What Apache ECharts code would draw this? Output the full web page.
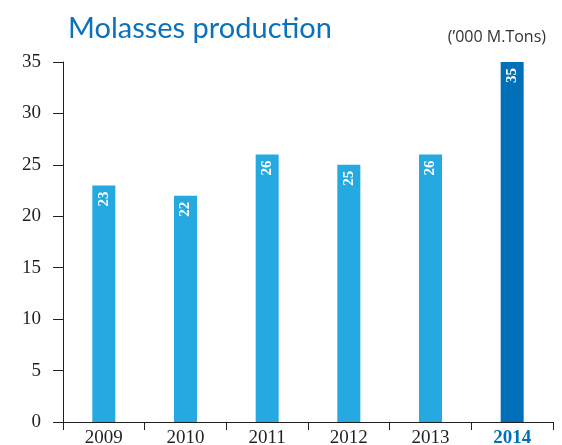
<!DOCTYPE html>
<html>
<head>
<meta charset="utf-8">
<title>Molasses production</title>
<script src="https://cdn.jsdelivr.net/npm/echarts@6/dist/echarts.min.js"></script>
<style>
  html, body { margin: 0; padding: 0; background: #fff; }
  #chart { width: 562px; height: 445px; }
</style>
</head>
<body>
<div id="chart"></div>
<script>
var years = ['2009', '2010', '2011', '2012', '2013', '2014'];
var production = [23, 22, 26, 25, 26, 35];
var yTicks = [0, 5, 10, 15, 20, 25, 30, 35];

var lightBlue = '#25a9e0';
var darkBlue = '#0070b8';
var ink = '#231f20';

var chart = echarts.init(document.getElementById('chart'));

var barData = production.map(function (v, i) {
    return {
        value: v,
        itemStyle: { color: i === production.length - 1 ? darkBlue : lightBlue }
    };
});

var option = {
    animation: false,
    title: [{
        text: 'Molasses production',
        left: 63,
        top: 9,
        textStyle: { fontFamily: 'Lato', fontSize: 29, fontWeight: 'normal', color: '#0a72bd' }
    }, {
        text: "(\u2019000 M.Tons)",
        right: 11,
        top: 24,
        textStyle: { fontFamily: 'Open Sans', fontSize: 16, fontWeight: 'normal', color: '#333' }
    }],
    grid: { left: 63, right: 9, top: 62, bottom: 23, outerBoundsMode: 'none', containLabel: false },
    xAxis: {
        type: 'category',
        data: years,
        axisLine: { lineStyle: { color: ink, width: 1 } },
        axisTick: { show: true, length: 8, lineStyle: { color: ink } },
        axisLabel: {
            interval: 0,
            margin: 7,
            fontFamily: 'Liberation Serif',
            fontSize: 19,
            color: ink,
            formatter: function (v) {
                return v === years[years.length - 1] ? '{hl|' + v + '}' : v;
            },
            rich: {
                hl: { fontFamily: 'Liberation Serif', fontSize: 19, fontWeight: 'bold', color: darkBlue }
            }
        }
    },
    yAxis: {
        type: 'value',
        min: yTicks[0],
        max: yTicks[yTicks.length - 1],
        interval: 5,
        splitLine: { show: false },
        axisLine: { show: true, lineStyle: { color: ink, width: 1 } },
        axisTick: { show: true, length: 10, lineStyle: { color: ink } },
        axisLabel: { margin: 22, fontFamily: 'Liberation Serif', fontSize: 19, color: ink }
    },
    series: [{
        type: 'bar',
        data: barData,
        barWidth: 23,
        label: {
            show: true,
            position: 'insideTop',
            rotate: 90,
            align: 'right',
            verticalAlign: 'middle',
            distance: 6,
            fontFamily: 'Liberation Serif',
            fontWeight: 'bold',
            fontSize: 15,
            color: '#fff'
        }
    }]
};

chart.setOption(option);
</script>
</body>
</html>
